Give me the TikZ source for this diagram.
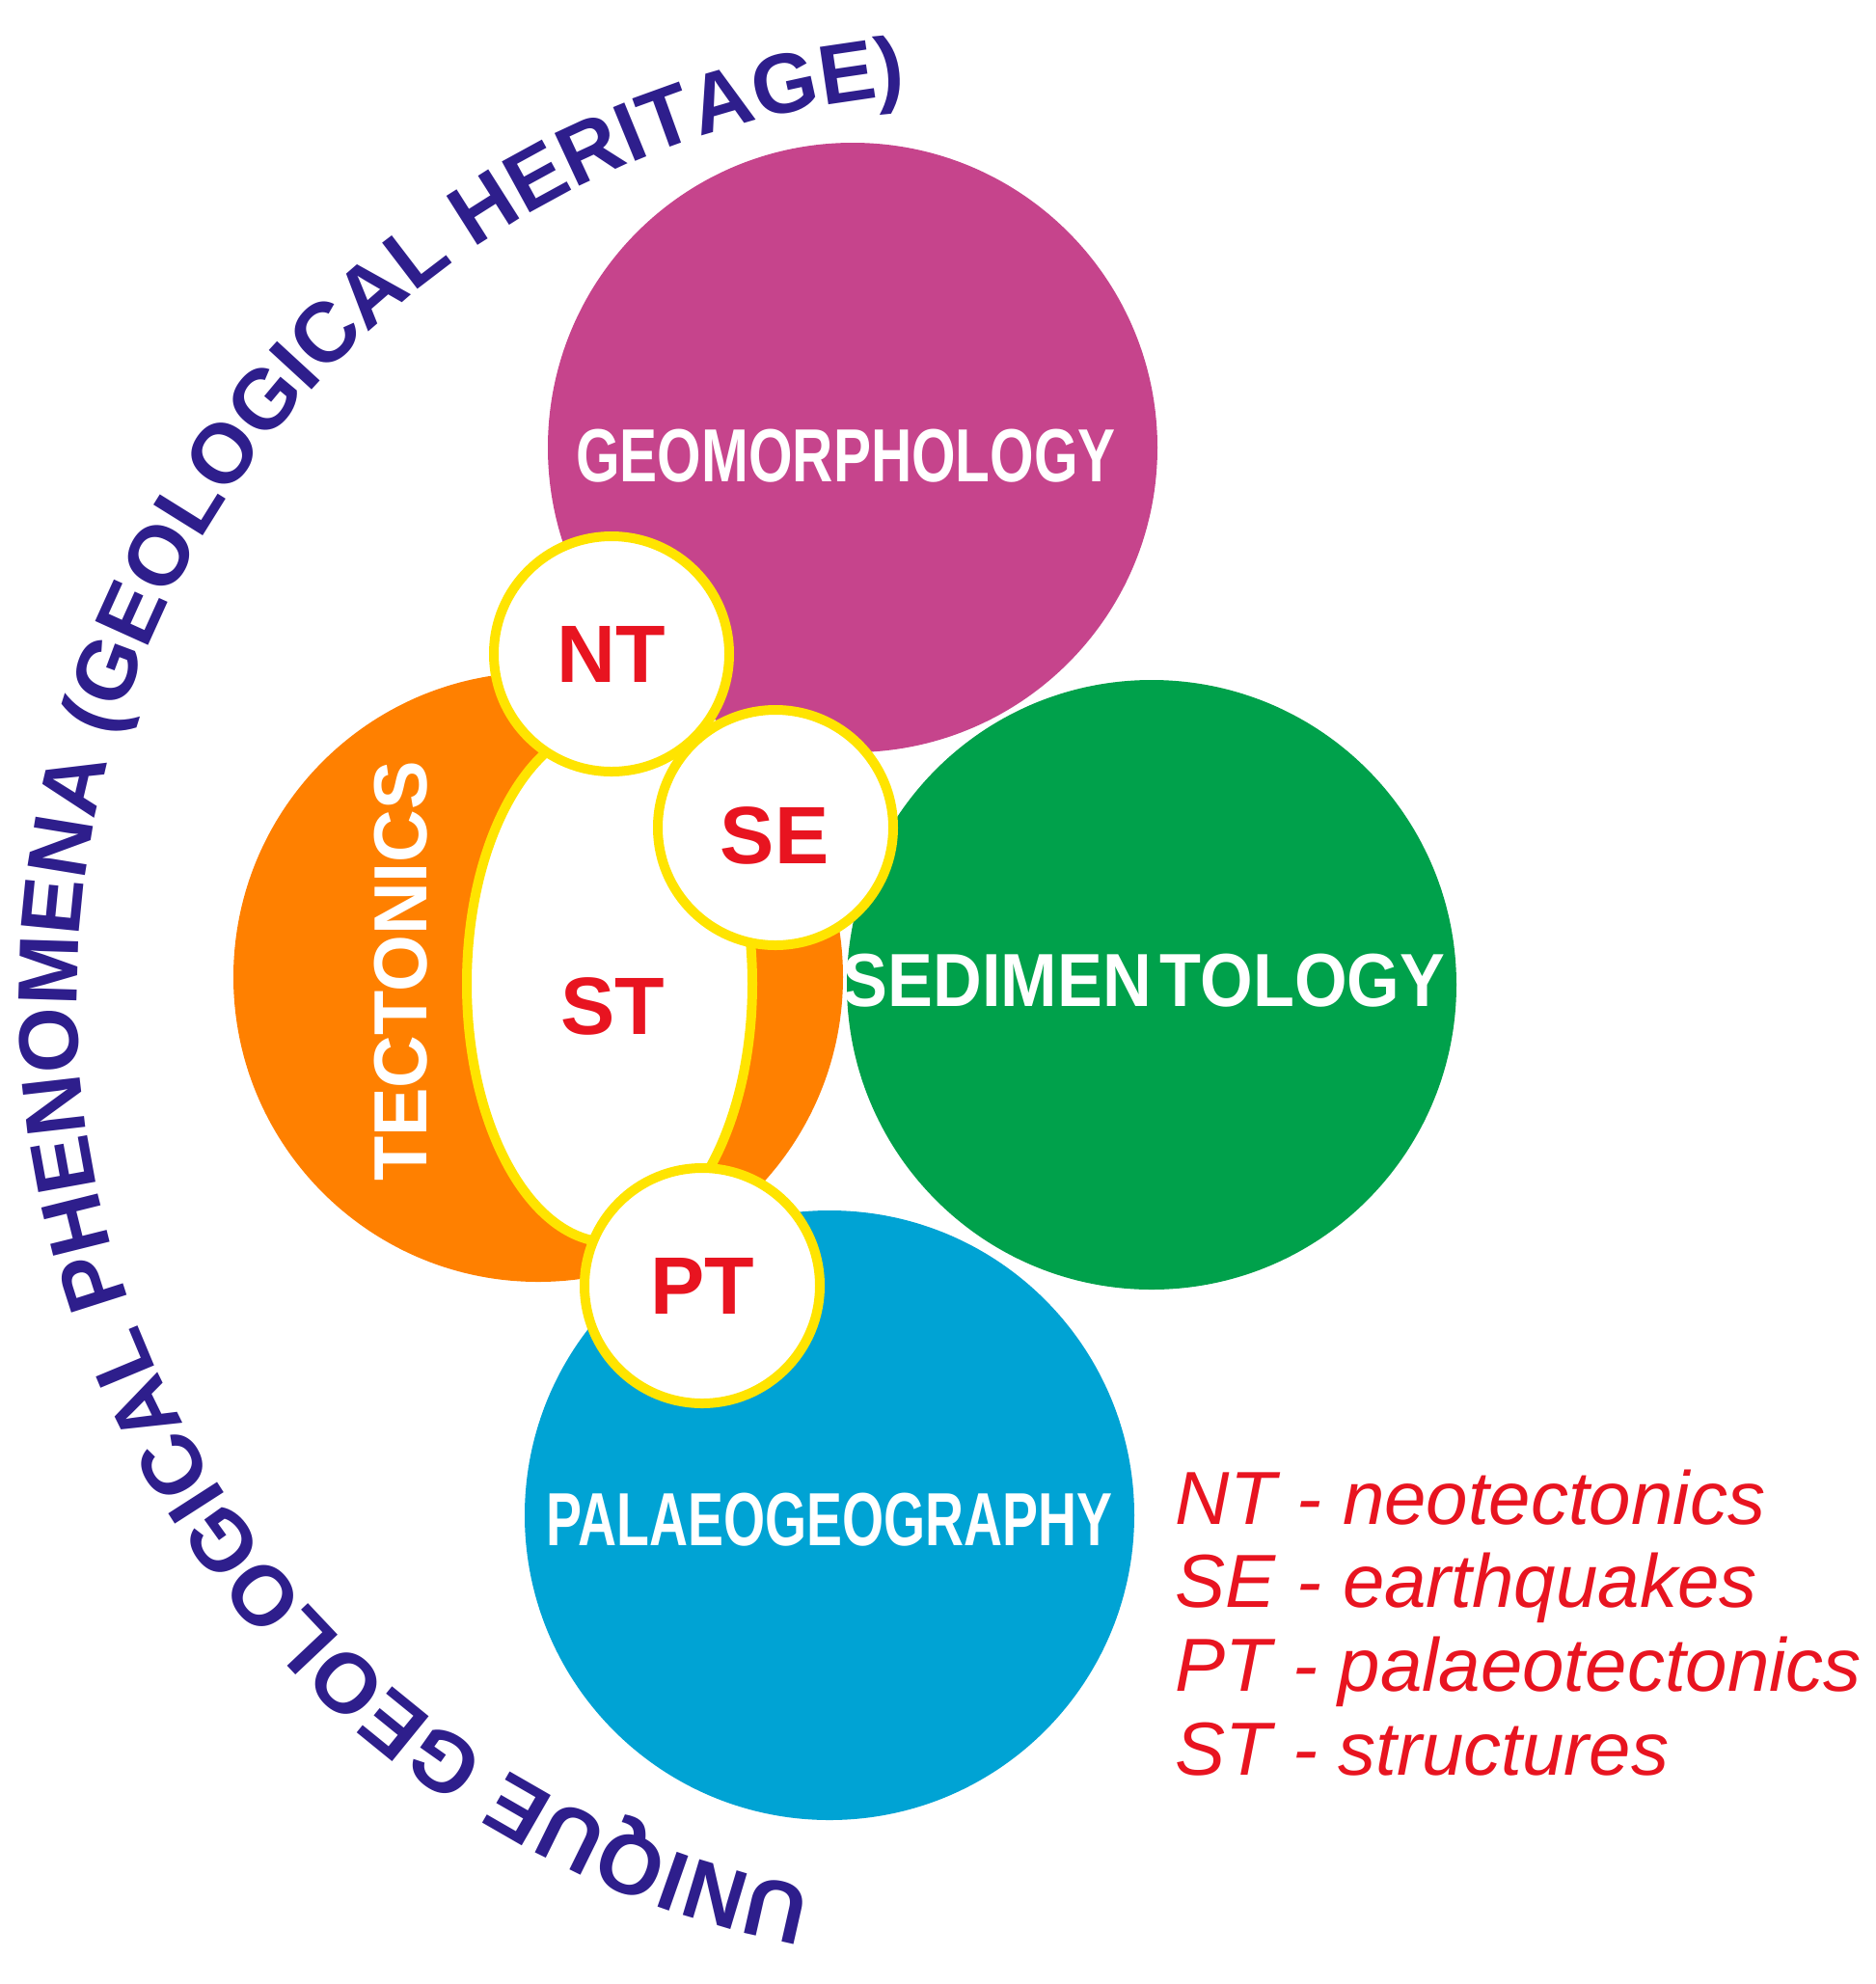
\documentclass[tikz,border=0pt]{standalone}
\usepackage{fontspec}
\setmainfont{Liberation Sans}
\usepackage{tikz}
\usetikzlibrary{shapes.geometric, decorations.text}
\definecolor{GHMagenta}{RGB}{198,68,140}
\definecolor{GHOrange}{RGB}{255,128,0}
\definecolor{GHGreen}{RGB}{0,161,75}
\definecolor{GHBlue}{RGB}{0,163,212}
\definecolor{GHYellow}{RGB}{255,228,0}
\definecolor{GHRed}{RGB}{232,20,32}
\definecolor{GHIndigo}{RGB}{46,30,140}

\begin{document}
\begin{tikzpicture}[
      bigdisc/.style={circle, minimum size=6.32cm, inner sep=0pt},
      biglabel/.style={text=white, inner sep=0pt,
                       font=\fontsize{22.2}{26}\selectfont\bfseries},
      smalldisc/.style={circle, minimum size=2.44cm, inner sep=0pt, fill=white,
                        draw=GHYellow, line width=0.1cm},
      abbr/.style={text=GHRed, font=\fontsize{24}{28}\selectfont\bfseries},
      keytext/.style={anchor=base west, inner sep=0pt, text=GHRed,
                      font=\fontsize{22.2}{26}\selectfont\itshape}
    ]
    \useasboundingbox (0,0) rectangle (19.45,-20.57);
    \fill[white] (0,0) rectangle (19.45,-20.57);

    % the four disciplines
    \node[bigdisc, fill=GHMagenta] (geomorph) at (8.84,-4.64) {};
    \node[bigdisc, fill=GHOrange]  (tecton)   at (5.58,-10.13) {};
    \node[bigdisc, fill=GHGreen]   (sedim)    at (11.94,-10.21) {};
    \node[bigdisc, fill=GHBlue]    (palaeo)   at (8.60,-15.71) {};
    \node[biglabel] (geomlabel) at (8.77,-4.73)
          {\scalebox{0.75}[1]{GEOMORPHOLOGY}};
    \node[biglabel] (sedlabel) at (11.86,-10.17)
          {\scalebox{0.90}[1]{SEDIMEN\hspace{0.1cm}TOLOGY}};
    \node[biglabel] (pallabel) at (8.60,-15.76)
          {\scalebox{0.71}[1]{PALAEOGEOGRAPHY}};
    \node[biglabel, rotate=90] (tectlabel) at (4.16,-10.07)
          {\scalebox{0.97}[1]{TECTONICS}};

    % structures and the overlaps
    \node[ellipse, minimum width=2.96cm, minimum height=5.36cm, inner sep=0pt,
          fill=white, draw=GHYellow, line width=0.1cm] (stzone) at (6.32,-10.20) {};
    \node[abbr] (stlabel) at (6.35,-10.43) {ST};
    \node[smalldisc] (nt) at (6.34,-6.78) {};
    \node[smalldisc] (se) at (8.04,-8.58) {};
    \node[smalldisc] (pt) at (7.28,-13.33) {};
    \node[abbr] (ntlabel) at (nt) {NT};
    \node[abbr] (selabel) at (8.03,-8.66) {SE};
    \node[abbr] (ptlabel) at (pt) {PT};

    % key
    \foreach \abbrv/\term [count=\i from 0] in {NT/neotectonics, SE/earthquakes,
                                             PT/palaeotectonics, ST/structures}{
      \node[keytext] (key\abbrv) at (12.18,{-15.80-0.867*\i}) {\abbrv\ - \term};
    }

    % heading round the left side
    \coordinate (arccentre) at (10.20,-10.35);
    \path[decorate, decoration={text along path, text align=center, text color=GHIndigo,
          text={|\fontsize{24.9}{30}\selectfont\bfseries|UNIQUE GEOLOGICAL PHENOMENA (GEOLOGICAL HERITAGE)}}]
      ([shift={(267:9.40)}]arccentre) arc[start angle=267, end angle=87, radius=9.40];
  \end{tikzpicture}
\end{document}
